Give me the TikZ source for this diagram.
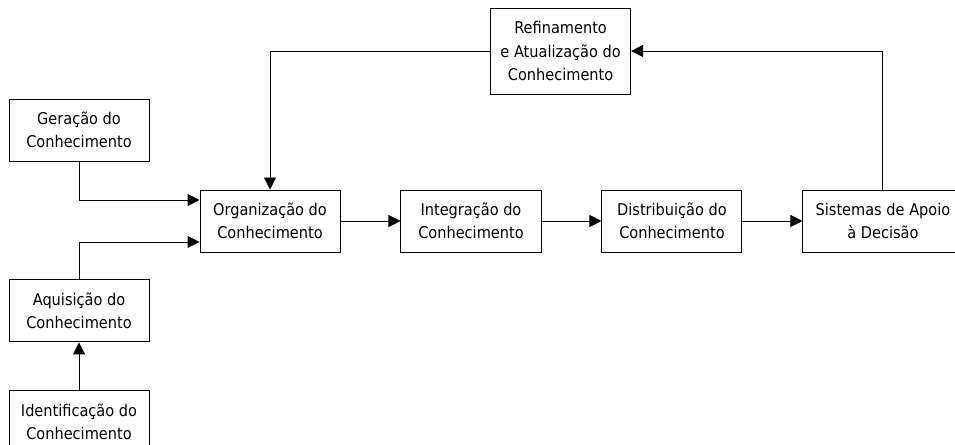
\documentclass[tikz,border=0pt]{standalone}
\usepackage{fontspec}
\setmainfont{DejaVu Sans Condensed}
\usetikzlibrary{positioning,arrows.meta}
\tikzset{
	etapa/.style = {draw, line width=0.7pt, align=center,
	 minimum width=3.5cm, minimum height=1.55cm, inner sep=2pt,
	 font=\fontsize{11.5}{16.4}\selectfont},
	seta/.style = {line width=0.7pt, -{Triangle[length=0.3cm,width=0.3cm]}}
	}

\begin{document}
\begin{tikzpicture}[node distance=1.5cm]
\useasboundingbox (0,0) rectangle (23.875,-11.125);

% NODES

% main chain
\node (org) [etapa] at (6.75,-5.525) {Organização do\\Conhecimento};
\node (integ) [etapa, right=of org] {Integração do\\Conhecimento};
\node (distr) [etapa, right=of integ] {Distribuição do\\Conhecimento};
\node (sist) [etapa, right=of distr, minimum width=4cm] {Sistemas de Apoio\\à Decisão};

% inputs
\node (gera) [etapa, above left=0.7cm and 1.25cm of org] {Geração do\\Conhecimento};
\node (aqui) [etapa, below left=0.675cm and 1.25cm of org] {Aquisição do\\Conhecimento};
\node (iden) [etapa, below=1.2cm of aqui] {Identificação do\\Conhecimento};

% feedback
\node (refi) [etapa, minimum height=2.15cm, above=2.375cm of integ, xshift=2.24cm] {Refinamento\\e Atualização do\\Conhecimento};


%CONNECTIONS
\draw [seta] (gera.south) |- ([yshift=0.525cm]org.west);
\draw [seta] (aqui.north) |- ([yshift=-0.525cm]org.west);
\draw [seta] (iden) -- (aqui);
\draw [seta] (org) -- (integ);
\draw [seta] (integ) -- (distr);
\draw [seta] (distr) -- (sist);
\draw [seta] (sist.north) |- (refi.east);
\draw [seta] (refi.west) -| (org.north);

\end{tikzpicture}
\end{document}
